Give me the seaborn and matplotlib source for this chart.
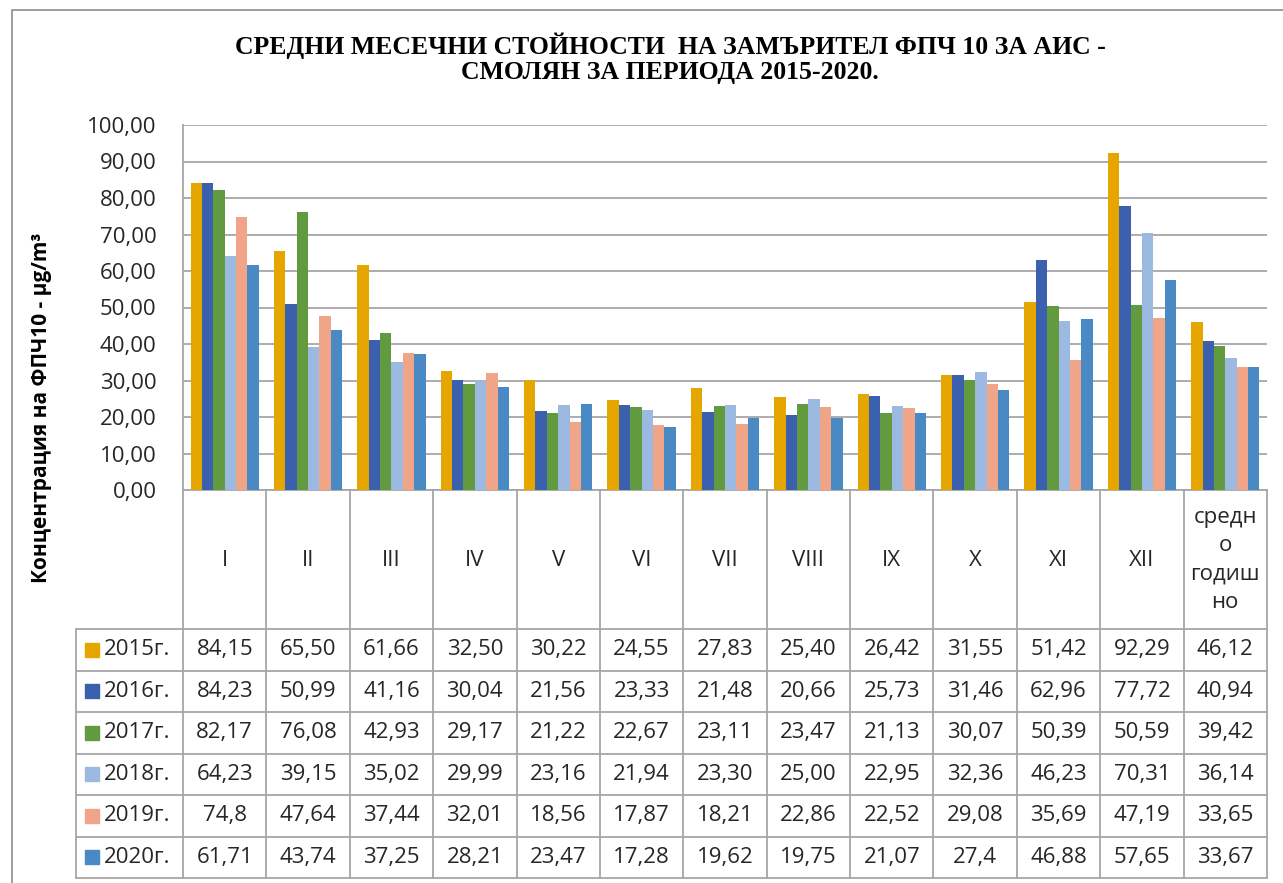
import seaborn as sns
import matplotlib.pyplot as plt
import pandas as pd
from matplotlib.patches import Rectangle

# data, as printed in the chart's table
months = ["I", "II", "III", "IV", "V", "VI", "VII", "VIII", "IX", "X", "XI", "XII", "средно\nгодишно"]
header_labels = ["I", "II", "III", "IV", "V", "VI", "VII", "VIII", "IX", "X", "XI", "XII", "средн\nо\nгодиш\nно"]
years = ["2015г.", "2016г.", "2017г.", "2018г.", "2019г.", "2020г."]

y2015 = ["84,15", "65,50", "61,66", "32,50", "30,22", "24,55", "27,83", "25,40", "26,42", "31,55", "51,42", "92,29", "46,12"]
y2016 = ["84,23", "50,99", "41,16", "30,04", "21,56", "23,33", "21,48", "20,66", "25,73", "31,46", "62,96", "77,72", "40,94"]
y2017 = ["82,17", "76,08", "42,93", "29,17", "21,22", "22,67", "23,11", "23,47", "21,13", "30,07", "50,39", "50,59", "39,42"]
y2018 = ["64,23", "39,15", "35,02", "29,99", "23,16", "21,94", "23,30", "25,00", "22,95", "32,36", "46,23", "70,31", "36,14"]
y2019 = ["74,8", "47,64", "37,44", "32,01", "18,56", "17,87", "18,21", "22,86", "22,52", "29,08", "35,69", "47,19", "33,65"]
y2020 = ["61,71", "43,74", "37,25", "28,21", "23,47", "17,28", "19,62", "19,75", "21,07", "27,4", "46,88", "57,65", "33,67"]
series = [y2015, y2016, y2017, y2018, y2019, y2020]

colors = ["#E5A600", "#3A60AE", "#629A3F", "#9BB9E1", "#F0A588", "#4A8AC4"]

rows = []
for year, vals in zip(years, series):
    for m, v in zip(months, vals):
        rows.append({"month": m, "year": year, "value": float(v.replace(",", "."))})
df = pd.DataFrame(rows)

W, H = 1283, 883
txt = "#262626"
grid = "#A6A6A6"
font = ["Open Sans", "DejaVu Sans"]
fs = 16

sns.set_style("white")
plt.rcParams["font.family"] = font

fig = plt.figure(figsize=(W / 100, H / 100), dpi=100)

# outer chart frame
fig.patches.append(Rectangle((12 / W, -0.1), 1.2, 1 - 10 / H + 0.1, transform=fig.transFigure,
                             fill=False, edgecolor="#8C8C8C", linewidth=1.2))

def px_axes(left, top, right, bottom):
    return fig.add_axes([left / W, 1 - bottom / H, (right - left) / W, (bottom - top) / H])

ax = px_axes(183, 125, 1267, 490)
sns.barplot(data=df, x="month", y="value", hue="year", order=months, hue_order=years,
            palette=colors, saturation=1, width=0.82, legend=False, ax=ax, zorder=3,
            linewidth=0, edgecolor="none")
ax.set_xlim(-0.5, 12.5)
ax.set_ylim(0, 100)
ax.set_yticks(range(0, 101, 10))
ax.set_yticklabels([f"{v:.2f}".replace(".", ",") for v in range(0, 101, 10)], fontsize=fs, color=txt)
ax.tick_params(axis="y", length=0, pad=19)
ax.set_xticks([])
ax.set_xlabel("")
ax.set_ylabel("")
ax.grid(axis="y", color=grid, linewidth=1.3, zorder=0)
ax.set_axisbelow(True)
for s in ["top", "right"]:
    ax.spines[s].set_visible(False)
for s in ["left", "bottom"]:
    ax.spines[s].set_color(grid)
    ax.spines[s].set_linewidth(1.3)

# data table under the axis
tax = px_axes(76, 490, 1267, 878)
ncol = len(months)
leg_w = (183 - 76) / ((1267 - 183) / ncol)
tax.set_xlim(-0.5 - leg_w, ncol - 0.5)
tax.set_ylim(388, 0)
tax.axis("off")
head_h = 139
row_h = (388 - head_h) / len(years)

lw = 1.3
for i in range(ncol + 1):
    tax.plot([i - 0.5, i - 0.5], [0, 388], color=grid, lw=lw, clip_on=False)
tax.plot([-0.5 - leg_w, -0.5 - leg_w], [head_h, 388], color=grid, lw=lw, clip_on=False)
for k in range(len(years) + 1):
    y = head_h + k * row_h
    tax.plot([-0.5 - leg_w, ncol - 0.5], [y, y], color=grid, lw=lw, clip_on=False)

for i, lab in enumerate(header_labels):
    tax.text(i, 70, lab, ha="center", va="center", fontsize=fs, color=txt, linespacing=1.45)

px = (1267 - 183) / ncol
for k, (year, vals, c) in enumerate(zip(years, series, colors)):
    yc = head_h + (k + 0.5) * row_h
    x0 = -0.5 - leg_w
    tax.add_patch(Rectangle((x0 + 9 / px, yc - 7), 14 / px, 14, color=c, clip_on=False))
    tax.text(x0 + 28 / px, yc, year, ha="left", va="center", fontsize=fs, color=txt)
    for i, v in enumerate(vals):
        tax.text(i, yc, v, ha="center", va="center", fontsize=fs, color=txt)

fig.text(670 / W, 1 - 58 / H,
         "СРЕДНИ МЕСЕЧНИ СТОЙНОСТИ  НА ЗАМЪРИТЕЛ ФПЧ 10 ЗА АИС -\nСМОЛЯН ЗА ПЕРИОДА 2015-2020.",
         ha="center", va="center", fontsize=18.5, fontweight="bold", color="black",
         family=["Liberation Serif", "DejaVu Serif"], linespacing=1.1)

fig.text(42 / W, 1 - 408 / H, "Концентрация на ФПЧ10 - µg/m³", rotation=90,
         ha="center", va="center", fontsize=15, fontweight="bold", color="black")

fig.savefig("out.png", dpi=100)
